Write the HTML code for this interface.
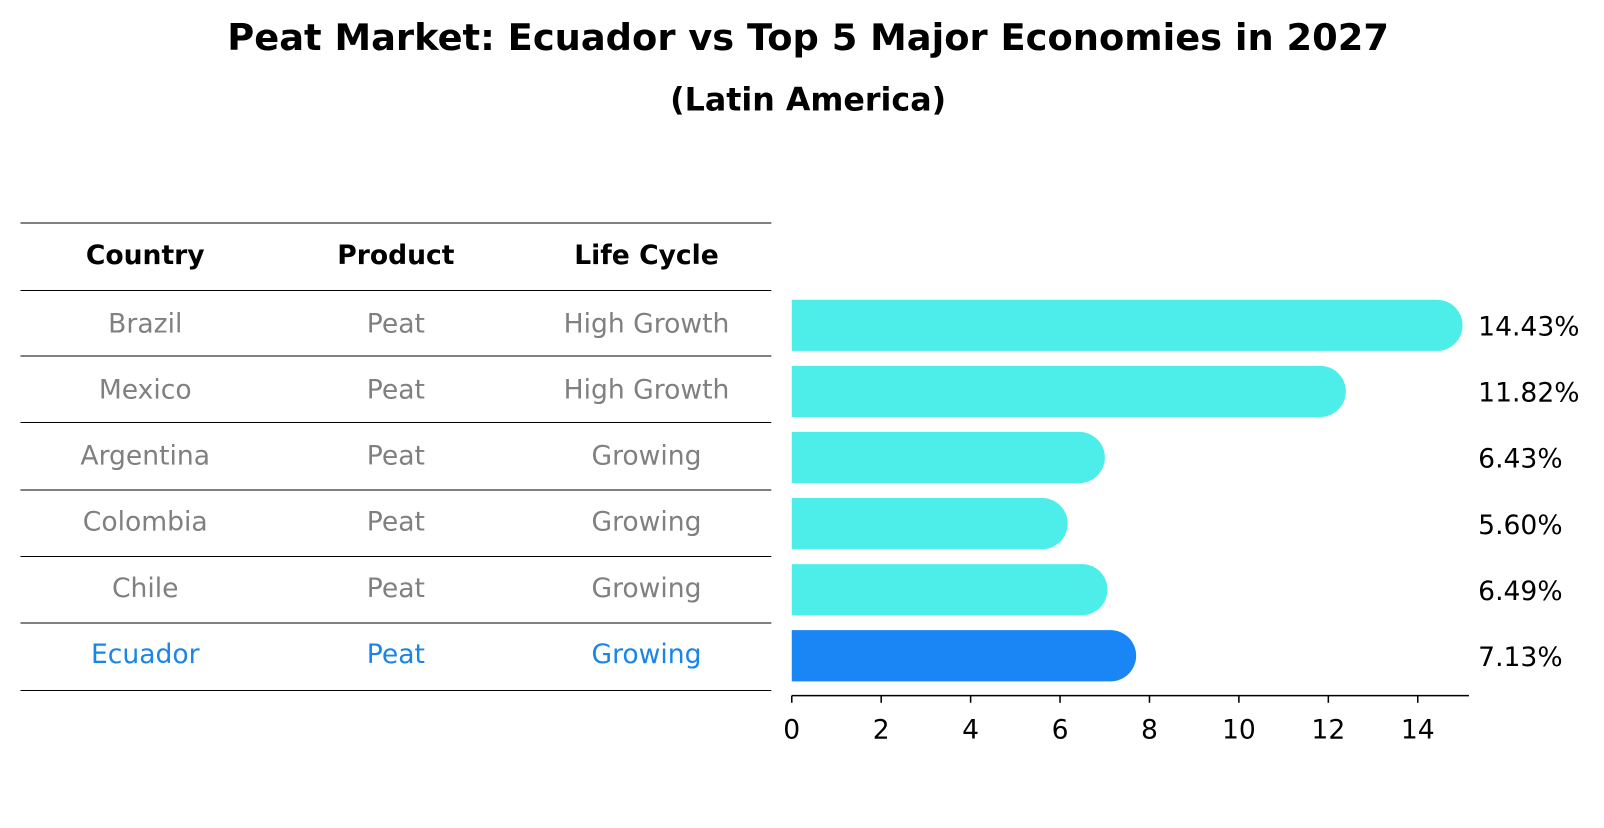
<!DOCTYPE html>
<html><head><meta charset="utf-8"><style>
body{margin:0;background:#fff;font-family:"Liberation Sans","DejaVu Sans",sans-serif}
svg text{font-family:"DejaVu Sans","Liberation Sans",sans-serif}
</style></head><body>
<svg id="c" width="1604" height="823" viewBox="0 0 1568 804.5" preserveAspectRatio="none" xmlns="http://www.w3.org/2000/svg">
<text x="790" y="49" text-anchor="middle" font-size="36" font-weight="bold">Peat Market: Ecuador vs Top 5 Major Economies in 2027</text>
<text x="790" y="108" text-anchor="middle" font-size="31" font-weight="bold">(Latin America)</text>
<g id="tbl"></g>
<g id="bars"></g>
</svg>
<script>
const countries=["Brazil","Mexico","Argentina","Colombia","Chile","Ecuador"];
const products=["Peat","Peat","Peat","Peat","Peat","Peat"];
const lifeCycle=["High Growth","High Growth","Growing","Growing","Growing","Growing"];
const values=[14.43,11.82,6.43,5.60,6.49,7.13];
const ticks=[0,2,4,6,8,10,12,14];
const NS="http://www.w3.org/2000/svg";
function mk(t,a,p){const e=document.createElementNS(NS,t);for(const k in a)e.setAttribute(k,a[k]);p.appendChild(e);return e;}
const tbl=document.getElementById('tbl'),bars=document.getElementById('bars');
const lines=[218,284,348,413,479,544,609,675];
lines.forEach((y,i)=>{const l=mk('line',{x1:20,x2:754,y1:y,y2:y,stroke:'#000','stroke-width':1},tbl);

});
const cols=[142,387,632];
["Country","Product","Life Cycle"].forEach((h,i)=>{const t=mk('text',{x:cols[i],y:258,'text-anchor':'middle','font-size':26,'font-weight':'bold'},tbl);t.textContent=h;

});
const X=v=>774+v*43.71;
const rowY=i=>316+i*64.6;
countries.forEach((c,i)=>{const col=i===5?'#1a85e8':'#808080';const y=rowY(i)+9;
[c,products[i],lifeCycle[i]].forEach((s,j)=>{const t=mk('text',{x:cols[j],y:y,'text-anchor':'middle','font-size':26,fill:col},tbl);t.textContent=s;

});
const cy=rowY(i)+2,h=50,r=25;
const x0=X(0),x1=X(values[i]);
const p=mk('path',{d:`M${x0},${cy-h/2} L${x1},${cy-h/2} A${r},${r} 0 0 1 ${x1},${cy+h/2} L${x0},${cy+h/2} Z`,fill:i===5?'#1a85f5':'#4deeea'},bars);


const t=mk('text',{x:1445,y:cy+10,'font-size':26},bars);t.textContent=values[i].toFixed(2)+'%';

});
const ax=mk('line',{x1:774,x2:1436,y1:680,y2:680,stroke:'#000','stroke-width':1.5},bars);


ticks.forEach(v=>{const l=mk('line',{x1:X(v),x2:X(v),y1:680,y2:687,stroke:'#000','stroke-width':1.5},bars);


const t=mk('text',{x:X(v),y:722,'text-anchor':'middle','font-size':26},bars);t.textContent=v;

});
</script>
</body></html>
